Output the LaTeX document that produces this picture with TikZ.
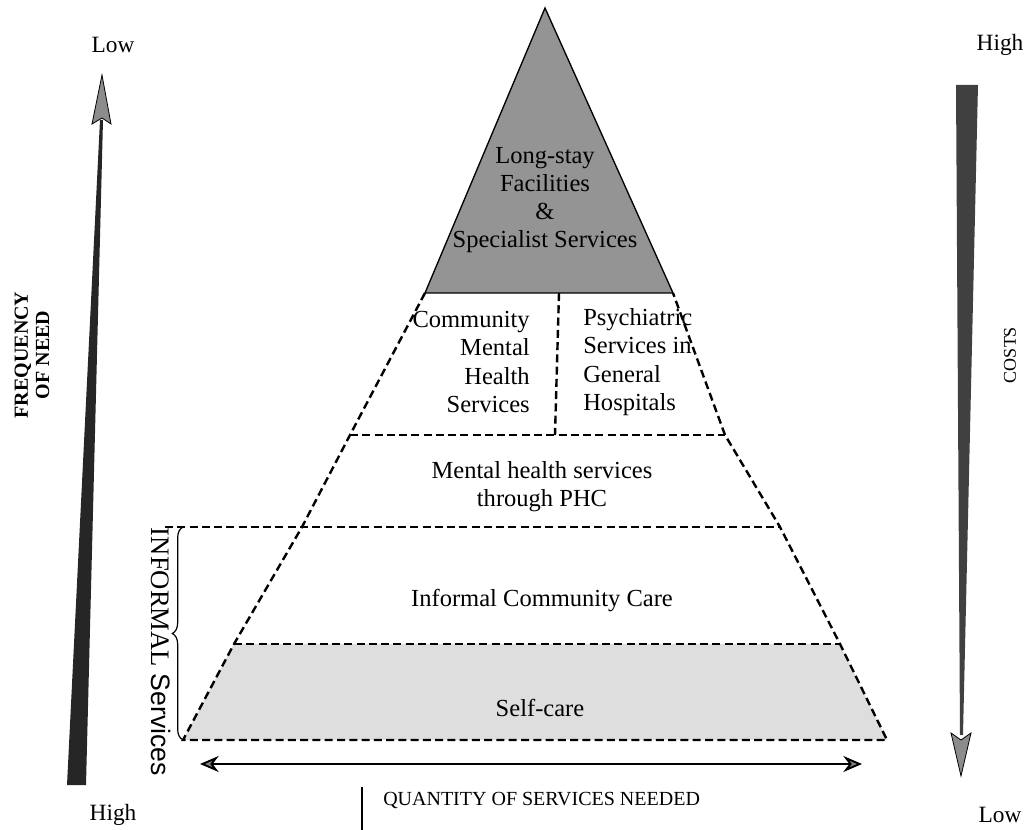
\documentclass[tikz,border=0pt]{standalone}
\usepackage{fontspec}
\setmainfont{Liberation Serif}
\setsansfont{Liberation Sans}
\usetikzlibrary{arrows.meta,decorations.pathreplacing}
\begin{document}
\begin{tikzpicture}[x=0.75pt,y=-0.75pt,
  dsh/.style={line width=1.8pt,dash pattern=on 6pt off 3.2pt},
  lbl/.style={font=\fontsize{18.4}{21.2}\selectfont,inner sep=0pt},
  side/.style={font=\fontsize{17.5}{20}\selectfont,inner sep=0pt},
  darkfill/.style={fill=black!45,draw=black,line width=0.6pt},
  qtip/.tip={Stealth[length=14pt,width=12pt,fill=black!50]},
]
\useasboundingbox (0,0) rectangle (1033,830);
% pyramid corners
\coordinate (apex) at (545,8);
\coordinate (tl) at (425,293); \coordinate (tr) at (673,293);
\coordinate (l1) at (350,435); \coordinate (r1) at (725,435);
\coordinate (l2) at (302,527); \coordinate (r2) at (780,527);
\coordinate (l3) at (234,644); \coordinate (r3) at (840,644);
\coordinate (l4) at (183,740); \coordinate (r4) at (887,740);
\coordinate (bt) at (165,527);
\coordinate (dv1) at (559,293); \coordinate (dv2) at (555,435);
% fills
\fill[black!13] (l3)--(r3)--(r4)--(l4)--cycle;
\filldraw[fill=black!42,draw=black,line width=1pt] (apex)--(tr)--(tl)--cycle;
% dashed outline and layers
\draw[dsh] (tl)--(l1)--(l2)--(l3)--(l4)--(r4)--(r3)--(r2)--(r1)--(tr);
\draw[dsh] (l1)--(r1);
\draw[dsh] (bt)--(r2);
\draw[dsh] (l3)--(r3);
\draw[dsh] (dv1)--(dv2);
% brace
\draw[line width=0.9pt,decorate,decoration={brace,amplitude=8pt}] (l4) -- (183,527);
% texts in pyramid
\node[lbl,align=center] (top) at (545,200) {Long-stay\\Facilities\\\&\\Specialist Services};
\node[lbl,align=right,anchor=east] (cmhs) at (530,362) {Community\\Mental\\Health\\Services};
\node[lbl,align=left,anchor=west] (psgh) at (583,362) {Psychiatric\\Services in\\General\\Hospitals};
\node[lbl,align=center] (phc) at (542,487) {Mental health services\\through PHC};
\node[lbl] (icc) at (542,601) {Informal Community Care};
\node[lbl] (sc) at (540,708) {Self-care};
\node[inner sep=0pt,font=\fontsize{20}{24}\selectfont,rotate=-90] (inf) at (161,652) {INFORMAL {\sffamily Services}};
% left axis
\node[side] (lowL) at (113,45) {Low};
\node[side] (highL) at (113,815) {High};
\fill[black!85] (67,785) -- (86,785) -- (103,120) -- (100,120) -- cycle;
\filldraw[darkfill] (102,75) -- (111,124) -- (102,118) -- (92,124) -- cycle;
\node[inner sep=0pt,font=\bfseries\fontsize{15}{16}\selectfont,rotate=90,align=center] (freq) at (32,355) {FREQUENCY\\OF NEED};
% right axis
\node[side] (highR) at (1000,45) {High};
\node[side] (lowR) at (1000,815) {Low};
\fill[black!75] (956,85) -- (978,85) -- (963,735) -- (960,735) -- cycle;
\filldraw[darkfill] (961,776) -- (971,733) -- (961,740) -- (951,733) -- cycle;
\node[inner sep=0pt,font=\fontsize{13.5}{15}\selectfont,rotate=90] (costs) at (1010,355) {COSTS};
% bottom axis
\coordinate (qa) at (200,764); \coordinate (qb) at (862,764);
\draw[line width=1.4pt,{qtip}-{qtip}] (qa)--(qb);
\coordinate (bar1) at (362,787); \coordinate (bar2) at (362,830);
\draw[line width=0.8pt] (bar1)--(bar2);
\node[inner sep=0pt,anchor=west,font=\fontsize{15}{18}\selectfont] (qty) at (383,801) {QUANTITY OF SERVICES NEEDED};
\end{tikzpicture}
\end{document}
